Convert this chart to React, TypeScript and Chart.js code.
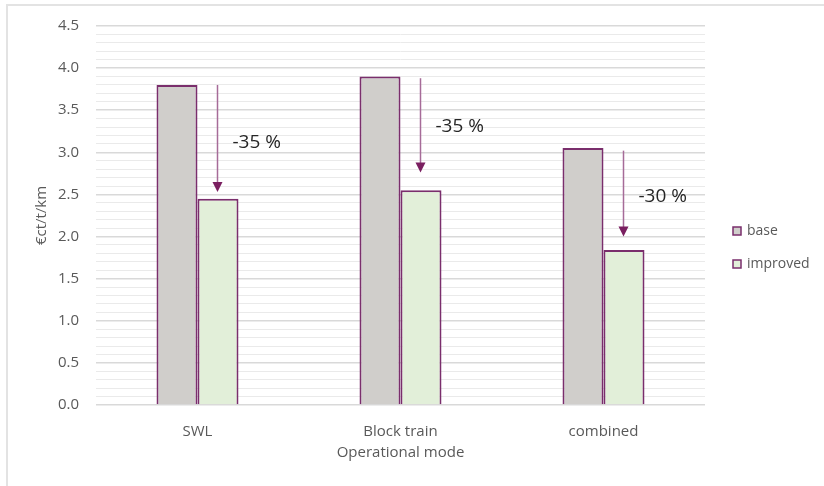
import React, { useEffect, useRef } from 'react';
import { Chart, registerables } from 'chart.js';

Chart.register(...registerables);

const categories = ['SWL', 'Block train', 'combined'];
const baseValues = [3.8, 3.9, 3.05];
const improvedValues = [2.45, 2.55, 1.84];
const arrowFrom = [3.8, 3.88, 3.02];
const arrowTo = [2.53, 2.76, 2.0];
const changeLabels = ['-35 %', '-35 %', '-30 %'];
const changeLabelAt = [3.11, 3.3, 2.48];
const seriesNames = ['base', 'improved'];

const FONT = '"Open Sans", Lato, sans-serif';
const PURPLE = '#7a2e6c';
const BASE_FILL = '#d0cecb';
const IMPROVED_FILL = '#e2efd9';
const TEXT = '#595959';

const overlayPlugin = {
  id: 'overlay',
  beforeDraw(chart: any) {
    const ctx = chart.ctx;
    ctx.save();
    ctx.strokeStyle = '#e3e3e3';
    ctx.lineWidth = 2;
    ctx.beginPath();
    ctx.moveTo(7, 486);
    ctx.lineTo(7, 5);
    ctx.lineTo(824, 5);
    ctx.stroke();
    ctx.restore();
  },
  afterDatasetsDraw(chart: any) {
    const ctx = chart.ctx;
    const y = chart.scales.y;
    const meta = chart.getDatasetMeta(1);
    ctx.save();
    categories.forEach((_, i) => {
      const bar = meta.data[i];
      const x = Math.round(bar.x) - 0.5;
      const y0 = y.getPixelForValue(arrowFrom[i]);
      const y1 = y.getPixelForValue(arrowTo[i]);
      ctx.strokeStyle = '#a66b98';
      ctx.lineWidth = 1.5;
      ctx.beginPath();
      ctx.moveTo(x, y0);
      ctx.lineTo(x, y1 - 8);
      ctx.stroke();
      ctx.fillStyle = '#7a1f60';
      ctx.beginPath();
      ctx.moveTo(x - 5, y1 - 10);
      ctx.lineTo(x + 5, y1 - 10);
      ctx.lineTo(x, y1);
      ctx.closePath();
      ctx.fill();
      ctx.fillStyle = '#262626';
      ctx.font = `19px ${FONT}`;
      ctx.textAlign = 'left';
      ctx.textBaseline = 'middle';
      ctx.fillText(changeLabels[i], x + 15, y.getPixelForValue(changeLabelAt[i]));
    });
    const fills = [BASE_FILL, IMPROVED_FILL];
    const legendY = [231, 264];
    seriesNames.forEach((name, i) => {
      ctx.fillStyle = fills[i];
      ctx.fillRect(733, legendY[i] - 4, 8, 8);
      ctx.strokeStyle = PURPLE;
      ctx.lineWidth = 1.5;
      ctx.strokeRect(733, legendY[i] - 4, 8, 8);
      ctx.fillStyle = TEXT;
      ctx.font = `14px ${FONT}`;
      ctx.textAlign = 'left';
      ctx.textBaseline = 'middle';
      ctx.fillText(name, 747, legendY[i]);
    });
    ctx.restore();
  },
};

export default function App() {
  const ref = useRef<HTMLCanvasElement>(null);
  useEffect(() => {
    if (!ref.current) return;
    const chart = new Chart(ref.current, {
      type: 'bar',
      data: {
        labels: categories,
        datasets: [
          {
            label: seriesNames[0],
            data: baseValues,
            backgroundColor: BASE_FILL,
            borderColor: PURPLE,
            borderWidth: 2,
            categoryPercentage: 0.404,
            barPercentage: 1,
          },
          {
            label: seriesNames[1],
            data: improvedValues,
            backgroundColor: IMPROVED_FILL,
            borderColor: PURPLE,
            borderWidth: 2,
            categoryPercentage: 0.404,
            barPercentage: 1,
          },
        ],
      },
      options: {
        responsive: false,
        animation: false,
        layout: { padding: { left: 0, top: 26, right: 119, bottom: 0 } },
        plugins: { legend: { display: false }, tooltip: { enabled: false } },
        scales: {
          x: {
            grid: { display: false },
            border: { display: false },
            ticks: { color: TEXT, font: { family: FONT, size: 15 }, padding: 10 },
            title: {
              display: true,
              text: 'Operational mode',
              color: TEXT,
              font: { family: FONT, size: 15 },
              padding: { top: 0, bottom: 24 },
            },
            afterFit(scale: any) {
              scale.height = 81;
            },
          },
          y: {
            min: 0,
            max: 4.5,
            border: { display: false },
            grid: {
              drawTicks: false,
              lineWidth: (c: any) => (Math.round(c.tick.value * 10) % 5 === 0 ? 1.5 : 1),
              color: (c: any) => (Math.round(c.tick.value * 10) % 5 === 0 ? '#d9d9d9' : '#eaeaea'),
            },
            ticks: {
              stepSize: 0.1,
              autoSkip: false,
              padding: 17,
              color: TEXT,
              font: { family: FONT, size: 15 },
              callback: (v: any) => {
                const n = Math.round(Number(v) * 10);
                return n % 5 === 0 ? (n / 10).toFixed(1) : '';
              },
            },
            title: {
              display: true,
              text: '€ct/t/km',
              color: TEXT,
              font: { family: FONT, size: 15 },
              padding: { top: 33, bottom: 0 },
            },
            afterFit(scale: any) {
              scale.width = 96;
            },
          },
        },
      },
      plugins: [overlayPlugin],
    });
    return () => chart.destroy();
  }, []);
  return (
    <div style={{ position: 'fixed', left: 0, top: 0, width: 824, height: 486, background: '#fff' }}>
      <canvas ref={ref} width={824} height={486} />
    </div>
  );
}
